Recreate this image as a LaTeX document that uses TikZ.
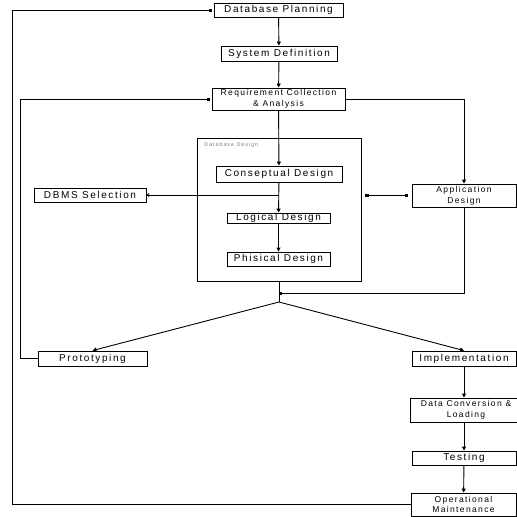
\documentclass[tikz,border=0pt]{standalone}
\usepackage{fontspec}
\newfontfamily\flowfont[LetterSpace=16]{Liberation Sans}
\usetikzlibrary{arrows.meta}

\begin{document}
\begin{tikzpicture}[x=1pt, y=-1pt, line width=0.9pt,
    stage/.style={draw, rectangle, inner sep=0pt, align=center, font=\flowfont\fontsize{10}{11}\selectfont},
    stagetwo/.style={stage, font=\flowfont\fontsize{8.5}{10.7}\selectfont},
    flow/.style={-{Triangle[length=4pt, width=4pt]}},
    feed/.style={-{Square[length=3pt, width=3pt]}}]
\useasboundingbox (0, 0) rectangle (517, 517);
\node[stage, minimum width=129pt, minimum height=14pt] (plan)     at (278.5, 10)    {Database Planning};
\node[stage, minimum width=116pt, minimum height=15pt] (sysdef)   at (279, 53.5)    {System Definition};
\node[stagetwo, minimum width=133pt, minimum height=22pt] (req)   at (278.5, 99)    {Requirement Collection\\\& Analysis};
\node[draw, inner sep=0pt, minimum width=164pt, minimum height=143pt] (dbdesign) at (279, 209.5) {};
\node[anchor=west, inner sep=0pt, text=gray, font=\flowfont\fontsize{5.5}{6}\selectfont] (dblabel) at (204, 145) {Database Design};
\node[stage, minimum width=126pt, minimum height=16pt] (concept)  at (279, 174)     {Conseptual Design};
\node[stage, minimum width=103pt, minimum height=10pt] (logical)  at (278.5, 218)   {Logical Design};
\node[stage, minimum width=103pt, minimum height=14pt] (physical) at (278.5, 259)   {Phisical Design};
\node[stage, minimum width=112pt, minimum height=14pt] (dbms)     at (90, 195)      {DBMS Selection};
\node[stagetwo, minimum width=104pt, minimum height=23pt] (app)   at (464, 195.5)   {Application\\Design};
\node[stage, minimum width=109pt, minimum height=15pt] (proto)    at (92.5, 358.5)  {Prototyping};
\node[stage, minimum width=104pt, minimum height=15pt] (impl)     at (464, 358.5)   {Implementation};
\node[stagetwo, minimum width=112pt, minimum height=24pt] (convert) at (466, 410)   {Data Conversion \&\\Loading};
\node[stage, minimum width=104pt, minimum height=14pt] (testing)  at (464, 458)     {Testing};
\node[stagetwo, minimum width=105pt, minimum height=23pt] (maint) at (463.5, 504.5) {Operational\\Maintenance};
\coordinate (join) at (279, 293);
\coordinate (fork) at (279, 302);

\draw[flow] (plan) -- (sysdef);
\draw[flow] (sysdef) -- (req);
\draw[flow] (req) -- (concept);
\draw[flow] (concept) -- (logical);
\draw[flow] (logical) -- (physical);
\draw[-{Straight Barb[length=2pt, width=3pt]}] (concept.south |- dbms) -- (dbms);
\draw[{Square[length=3pt, width=3pt]}-{Square[length=3pt, width=3pt]}, shorten <=4pt, shorten >=4pt]
    (dbdesign.east |- app) -- (app.west);
\draw[flow] (req.east) -| (app.north);
\draw[feed] (app.south) |- (join);
\draw (dbdesign.south) -- (fork);
\draw[flow] (fork) -- (proto.north);
\draw[flow] (fork) -- (impl.north);
\draw[feed, shorten >=2pt] (proto.west) -- ++(-17, 0) |- (req.west);
\draw[flow] (impl) -- (impl |- convert.north);
\draw[flow] (convert.south -| impl) -- (testing);
\draw[flow] (testing) -- (maint);
\draw[feed, shorten >=2pt] (maint.west) -- ++(-398, 0) |- (plan.west);
\end{tikzpicture}
\end{document}
